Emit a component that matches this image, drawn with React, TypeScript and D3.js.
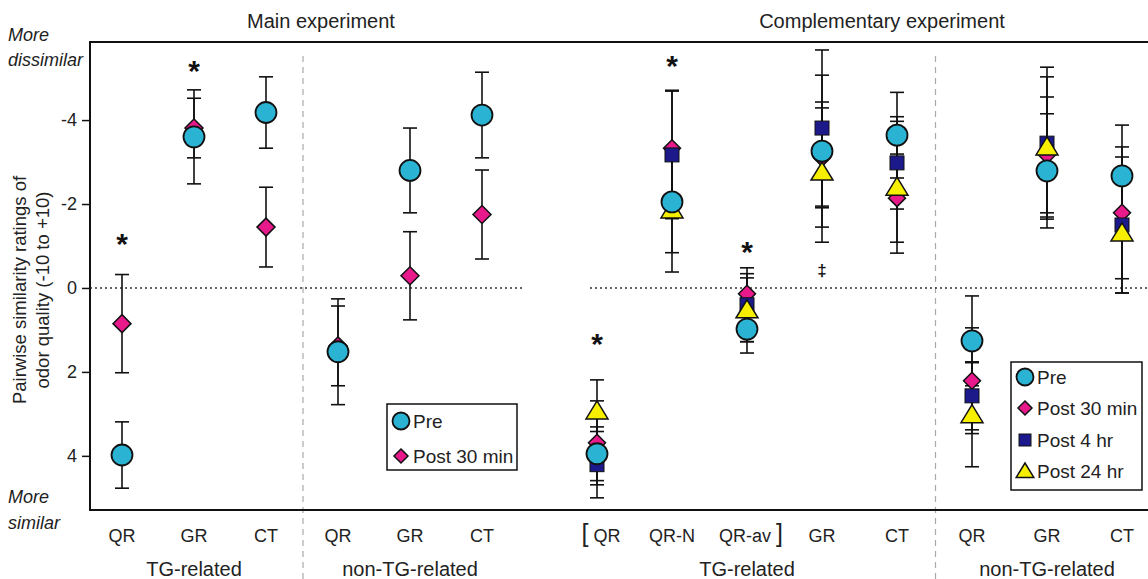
import React, { useEffect, useRef } from 'react';
import * as d3 from 'd3';

// categories
const mainCats = ['QR', 'GR', 'CT', 'QR', 'GR', 'CT'];
const compCats = ['[QR', 'QR-N', 'QR-av]', 'GR', 'CT', 'QR', 'GR', 'CT'];
const mainGroups = [{ label: 'TG-related', from: 0, to: 2 }, { label: 'non-TG-related', from: 3, to: 5 }];
const compGroups = [{ label: 'TG-related', from: 0, to: 4 }, { label: 'non-TG-related', from: 5, to: 7 }];

// main experiment (pairwise similarity, -10..+10)
const mainPre = [3.98, -3.6, -4.18, 1.52, -2.8, -4.12];
const mainPreErr = [0.79, 1.12, 0.85, 1.26, 1.01, 1.02];
const mainPost30 = [0.85, -3.81, -1.45, 1.38, -0.29, -1.75];
const mainPost30Err = [1.17, 0.71, 0.95, 0.95, 1.05, 1.06];

// complementary experiment
const compPre = [3.95, -2.05, 0.98, -3.26, -3.64, 1.26, -2.79, -2.67];
const compPreErr = [0.64, 1.21, 0.57, 1.81, 1.02, 1.07, 1.36, 1.21];
const compPost30 = [3.69, -3.33, 0.14, -3.1, -2.14, 2.21, -3.17, -1.79];
const compPost30Err = [1.0, 1.38, 0.48, 1.19, 1.05, 1.26, 1.38, 1.57];
const compPost4 = [4.21, -3.17, 0.4, -3.81, -2.98, 2.57, -3.45, -1.5];
const compPost4Err = [0.79, 1.52, 0.88, 1.86, 1.1, 0.81, 1.81, 1.62];
const compPost24 = [2.93, -1.86, 0.52, -2.76, -2.4, 3.02, -3.36, -1.31];
const compPost24Err = [0.74, 1.48, 0.76, 1.67, 1.57, 1.24, 1.67, 1.43];

// significance marks: [category index, level, symbol]
const mainMarks: [number, number, string][] = [[0, -1.26, '*'], [1, -5.38, '*']];
const compMarks: [number, number, string][] = [[0, 1.12, '*'], [1, -5.5, '*'], [2, -1.07, '*'], [3, -0.43, '‡']];

const yTicks = [-4, -2, 0, 2, 4];

const FONT = '"Liberation Sans", Arial, sans-serif';
const colors = { pre: '#2bb3d3', post30: '#e8198b', post4: '#1c1a8a', post24: '#f6f000' };

function App() {
  const ref = useRef<SVGSVGElement>(null);

  useEffect(() => {
    const svg = d3.select(ref.current);
    svg.selectAll('*').remove();

    const left = 90, top = 42, bottom = 510, right = 1150;

    const y = d3.scaleLinear().domain([-5.86, 5.29]).range([top, bottom]);
    const xMain = d3.scaleLinear().domain([0, 5]).range([122, 482]);
    const xComp = d3.scaleLinear().domain([0, 7]).range([597, 1122]);

    const g = svg.append('g').style('font-family', FONT);

    // separators
    [xMain(2.5) + 1, xComp(4.5) + 1].forEach(xx => {
      g.append('line')
        .attr('x1', xx).attr('x2', xx)
        .attr('y1', top + 14).attr('y2', 579)
        .style('stroke', '#aaa').style('stroke-width', 1.2)
        .style('stroke-dasharray', '6,5');
    });

    // zero lines
    g.append('line').attr('x1', left).attr('x2', 525).attr('y1', y(0)).attr('y2', y(0))
      .style('stroke', '#333').style('stroke-width', 1.5).style('stroke-dasharray', '2,3');
    g.append('line').attr('x1', 590).attr('x2', right).attr('y1', y(0)).attr('y2', y(0))
      .style('stroke', '#333').style('stroke-width', 1.5).style('stroke-dasharray', '2,3');

    // box
    g.append('rect').attr('x', left).attr('y', top).attr('width', right - left).attr('height', bottom - top)
      .style('fill', 'none').style('stroke', '#111').style('stroke-width', 2);

    // y axis
    const yAxis = d3.axisLeft(y).tickValues(yTicks).tickSize(8).tickPadding(5)
      .tickFormat(d => String(d));
    const ax = g.append('g').attr('transform', `translate(${left},0)`).call(yAxis);
    ax.select('.domain').remove();
    ax.selectAll('line').style('stroke', '#111').style('stroke-width', 1.5);
    ax.selectAll('text').style('font-family', FONT).style('font-size', '18px').style('fill', '#222');

    // axis title
    const yt = g.append('text').attr('transform', 'translate(0,290) rotate(-90)')
      .attr('text-anchor', 'middle').style('font-size', '18.5px').style('fill', '#222');
    yt.append('tspan').attr('x', 0).attr('y', 26).text('Pairwise similarity ratings of');
    yt.append('tspan').attr('x', 0).attr('y', 49).text('odor quality (-10 to +10)');

    const italic = (txt: string, yy: number) =>
      g.append('text').attr('x', 8).attr('y', yy).text(txt)
        .style('font-size', '18px').style('font-style', 'italic').style('fill', '#222');
    italic('More', 41);
    italic('dissimilar', 66);
    italic('More', 503);
    italic('similar', 529);

    // titles
    g.append('text').attr('x', xMain(2.5) + 19).attr('y', 28).attr('text-anchor', 'middle')
      .style('font-size', '20px').style('fill', '#222').text('Main experiment');
    g.append('text').attr('x', xComp(3.8)).attr('y', 28).attr('text-anchor', 'middle')
      .style('font-size', '20px').style('fill', '#222').text('Complementary experiment');

    // category labels
    const catLabel = (x: d3.ScaleLinear<number, number>, cats: string[]) => {
      cats.forEach((c, i) => {
        const t = g.append('text').attr('x', x(i)).attr('y', 542).attr('text-anchor', 'middle')
          .style('font-size', '18px').style('fill', '#222');
        if (c.startsWith('[')) {
          t.attr('x', x(i) + 4);
          t.append('tspan').text('[').style('font-size', '25px').style('font-weight', '300');
          t.append('tspan').text(' ' + c.slice(1));
        } else if (c.endsWith(']')) {
          t.attr('x', x(i) + 4);
          t.append('tspan').text(c.slice(0, -1) + ' ');
          t.append('tspan').text(']').style('font-size', '25px').style('font-weight', '300');
        } else {
          t.text(c);
        }
      });
    };
    catLabel(xMain, mainCats);
    catLabel(xComp, compCats);

    const groupLabel = (x: d3.ScaleLinear<number, number>, groups: typeof mainGroups) => {
      groups.forEach(gr => {
        g.append('text').attr('x', (x(gr.from) + x(gr.to)) / 2).attr('y', 576).attr('text-anchor', 'middle')
          .style('font-size', '20px').style('fill', '#222').text(gr.label);
      });
    };
    groupLabel(xMain, mainGroups);
    groupLabel(xComp, compGroups);

    // markers
    const shapes: Record<string, (sel: d3.Selection<any, any, any, any>, cx: number, cy: number, s: number) => void> = {
      circle: (sel, cx, cy, s) => {
        sel.append('circle').attr('cx', cx).attr('cy', cy).attr('r', s)
          .style('fill', colors.pre).style('stroke', '#111').style('stroke-width', 1.8);
      },
      diamond: (sel, cx, cy, s) => {
        sel.append('path').attr('d', `M${cx},${cy - s}L${cx + s},${cy}L${cx},${cy + s}L${cx - s},${cy}Z`)
          .style('fill', colors.post30).style('stroke', '#111').style('stroke-width', 1.5);
      },
      square: (sel, cx, cy, s) => {
        sel.append('rect').attr('x', cx - s).attr('y', cy - s).attr('width', 2 * s).attr('height', 2 * s)
          .style('fill', colors.post4).style('stroke', '#111').style('stroke-width', 1);
      },
      triangle: (sel, cx, cy, s) => {
        sel.append('path').attr('d', `M${cx},${cy - s}L${cx + s * 1.1},${cy + s * 0.8}L${cx - s * 1.1},${cy + s * 0.8}Z`)
          .style('fill', colors.post24).style('stroke', '#111').style('stroke-width', 1.5);
      }
    };

    const errBars = (x: d3.ScaleLinear<number, number>, vals: number[], errs: number[]) => {
      vals.forEach((v, i) => {
        const cx = x(i);
        g.append('line').attr('x1', cx).attr('x2', cx).attr('y1', y(v - errs[i])).attr('y2', y(v + errs[i]))
          .style('stroke', '#111').style('stroke-width', 1.6);
        [v - errs[i], v + errs[i]].forEach(e => {
          g.append('line').attr('x1', cx - 7).attr('x2', cx + 7).attr('y1', y(e)).attr('y2', y(e))
            .style('stroke', '#111').style('stroke-width', 1.6);
        });
      });
    };

    const points = (x: d3.ScaleLinear<number, number>, vals: number[], shape: string, s: number) => {
      vals.forEach((v, i) => shapes[shape](g, x(i), y(v), s));
    };

    errBars(xMain, mainPost30, mainPost30Err);
    errBars(xMain, mainPre, mainPreErr);
    errBars(xComp, compPost30, compPost30Err);
    errBars(xComp, compPost4, compPost4Err);
    errBars(xComp, compPost24, compPost24Err);
    errBars(xComp, compPre, compPreErr);

    points(xMain, mainPost30, 'diamond', 9);
    points(xMain, mainPre, 'circle', 10.5);
    points(xComp, compPost30, 'diamond', 8.5);
    points(xComp, compPost4, 'square', 7);
    points(xComp, compPost24, 'triangle', 10);
    points(xComp, compPre, 'circle', 10.5);

    // significance marks
    const marks = (x: d3.ScaleLinear<number, number>, m: [number, number, string][]) => {
      m.forEach(([i, lv, s]) => {
        g.append('text').attr('x', x(i)).attr('y', y(lv)).attr('text-anchor', 'middle')
          .attr('dy', s === '*' ? '0.62em' : '0.35em')
          .style('font-size', s === '*' ? '30px' : '17px').style('font-weight', 'bold')
          .style('fill', '#111').text(s);
      });
    };
    marks(xMain, mainMarks);
    marks(xComp, compMarks);

    // legends
    const legend = (lx: number, ly: number, w: number, h: number, items: [string, string, number][]) => {
      g.append('rect').attr('x', lx).attr('y', ly).attr('width', w).attr('height', h)
        .style('fill', '#fff').style('stroke', '#111').style('stroke-width', 1.5);
      items.forEach(([shape, label, iy]) => {
        const sz = shape === 'circle' ? 8.5 : shape === 'diamond' ? 7 : shape === 'square' ? 6 : 8;
        shapes[shape](g, lx + 14, iy, sz);
        g.append('text').attr('x', lx + 26).attr('y', iy).attr('dy', '0.36em')
          .style('font-size', '19px').style('fill', '#222').text(label);
      });
    };
    legend(387, 404, 130, 66, [['circle', 'Pre', 421], ['diamond', 'Post 30 min', 456]]);
    legend(1011, 362, 131, 128, [['circle', 'Pre', 377], ['diamond', 'Post 30 min', 408], ['square', 'Post 4 hr', 440], ['triangle', 'Post 24 hr', 471]]);
  }, []);

  return (
    <svg ref={ref} width={1148} height={579}
      style={{ position: 'absolute', left: 0, top: 0, background: '#fff' }} />
  );
}

export default App;
